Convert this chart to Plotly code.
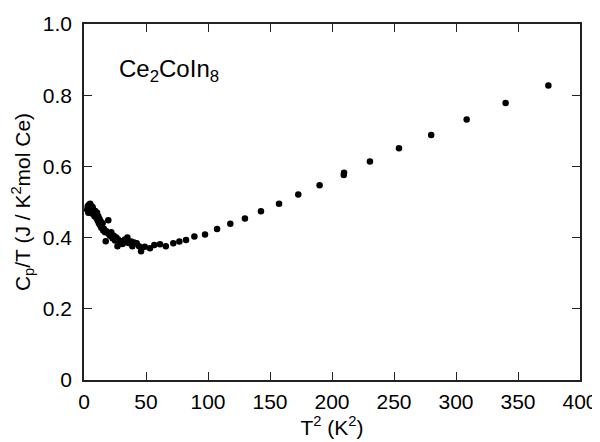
import plotly.graph_objects as go

# T^2 (K^2) and Cp/T (J / K^2 mol Ce)
t2 = [2.5, 3.0, 3.5, 4.0, 4.5, 5.0, 5.5, 6.0, 6.5, 7.0, 7.5, 8.0, 8.5, 9.0, 9.5,
      10.0, 10.5, 11.0, 11.5, 12.0, 12.5, 13.0, 13.5, 14.0, 15.0, 15.5, 16.0,
      17.0, 17.5, 18.0, 19.6, 20.0, 21.0, 22.0, 23.0, 24.0, 25.0, 26.0, 27.0,
      27.5, 29.0, 30.0, 31.0, 32.3, 33.0, 35.0, 36.0, 38.0, 39.0, 40.3, 42.5,
      44.4, 46.0, 49.0, 53.2, 56.7, 61.3, 66.0, 72.0, 76.9, 82.3, 89.0, 97.6,
      107.3, 118.0, 129.8, 142.7, 157.3, 172.8, 190.0, 209.5, 209.7, 230.6,
      254.0, 280.0, 308.6, 340.0, 374.5]
cpt = [0.478, 0.488, 0.470, 0.492, 0.481, 0.495, 0.474, 0.488, 0.468, 0.485,
       0.478, 0.470, 0.460, 0.475, 0.465, 0.455, 0.470, 0.448, 0.460, 0.440,
       0.452, 0.435, 0.445, 0.428, 0.440, 0.420, 0.425, 0.415, 0.390, 0.418,
       0.449, 0.410, 0.405, 0.415, 0.398, 0.405, 0.392, 0.400, 0.376, 0.395,
       0.385, 0.390, 0.382, 0.386, 0.395, 0.400, 0.385, 0.389, 0.376, 0.386,
       0.384, 0.376, 0.362, 0.374, 0.370, 0.379, 0.381, 0.376, 0.384, 0.389,
       0.393, 0.403, 0.409, 0.424, 0.439, 0.454, 0.474, 0.495, 0.521, 0.547,
       0.576, 0.582, 0.614, 0.651, 0.688, 0.732, 0.778, 0.827]

x_ticks = [0, 50, 100, 150, 200, 250, 300, 350, 400]
y_ticks = [0, 0.2, 0.4, 0.6, 0.8, 1.0]
y_tick_labels = ["0", "0.2", "0.4", "0.6", "0.8", "1.0"]

FONT = "Liberation Sans, Arial, sans-serif"

fig = go.Figure()
fig.add_trace(go.Scatter(
    x=t2, y=cpt, mode="markers",
    marker=dict(color="black", size=6.5, line=dict(width=0)),
    showlegend=False,
))

fig.add_annotation(
    x=27, y=0.868, xref="x", yref="y", xanchor="left", yanchor="middle",
    text="Ce<sub>2</sub>CoIn<sub>8</sub>", showarrow=False,
    font=dict(family=FONT, size=24, color="black"),
)

axis_common = dict(
    showline=True, linecolor="#222", linewidth=1.5, mirror="ticks",
    ticks="inside", ticklen=8, tickwidth=1.2, tickcolor="#222",
    showgrid=False, zeroline=False, automargin=False,
    tickfont=dict(family=FONT, size=21, color="black"),
)

fig.update_xaxes(
    range=[0, 400], tickvals=x_ticks, ticklabelstandoff=2,
    title=dict(text="T<sup>2</sup> (K<sup>2</sup>)", standoff=0,
               font=dict(family=FONT, size=21, color="black")),
    **axis_common,
)
fig.update_yaxes(
    range=[0, 1.0], tickvals=y_ticks, ticktext=y_tick_labels,
    ticklabelstandoff=6,
    title=dict(text="C<sub>p</sub>/T (J / K<sup>2</sup>mol Ce)", standoff=8,
               font=dict(family=FONT, size=21, color="black")),
    **axis_common,
)

# the page adds an 8 px body margin, so the figure is shifted to compensate
fig.update_layout(
    width=592, height=434,
    margin=dict(l=76, r=20, t=16, b=62),
    paper_bgcolor="white", plot_bgcolor="white",
    font=dict(family=FONT, color="black"),
)

fig.write_html("out.html")
